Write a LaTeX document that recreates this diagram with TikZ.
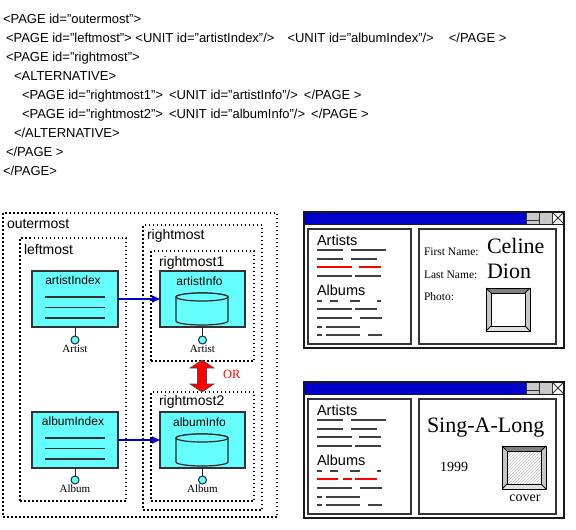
\documentclass[tikz,border=0pt]{standalone}
\usepackage{fontspec}
\setmainfont{Liberation Serif}
\setsansfont{Liberation Sans}
\usetikzlibrary{positioning,arrows.meta,patterns}
\definecolor{unitcyan}{HTML}{66FFFF}
\definecolor{linkblue}{HTML}{0000CC}
\definecolor{barblue}{HTML}{0000CC}
\definecolor{btngray}{HTML}{C8C8C8}
\definecolor{orred}{HTML}{FF0000}
\begin{document}
\begin{tikzpicture}[
    x=1pt, y=-1pt,
    every node/.style={inner sep=0pt, outer sep=0pt},
    xml/.style={anchor=base west, font=\sffamily\fontsize{13}{15}\selectfont},
    page/.style={draw, line width=1.2pt, dash pattern=on 1.5pt off 2.5pt, anchor=north west},
    pagetitle/.style={anchor=base west, font=\sffamily\fontsize{14}{16}\selectfont},
    unit/.style={draw=black!80, fill=unitcyan, line width=1.2pt, minimum width=86pt, minimum height=56pt},
    unittitle/.style={anchor=base, font=\sffamily\fontsize{12}{14}\selectfont},
    store/.style={draw=black!85, fill=unitcyan, line width=1.2pt},
    port/.style={circle, draw=black!85, fill=unitcyan, line width=1pt, minimum size=8pt},
    portlabel/.style={font=\fontsize{11}{13}\selectfont},
    stem/.style={draw=black!85, line width=1pt},
    link/.style={draw=linkblue, line width=1.2pt, -{Triangle[length=8pt,width=7pt]}},
    orarrow/.style={fill=orred, draw=black!70, line width=0.6pt, line join=miter},
    ortext/.style={anchor=base west, text=orred, font=\fontsize{12.5}{14}\selectfont},
    win/.style={draw=black!90, line width=1.5pt, anchor=north west, minimum width=260pt, minimum height=136pt},
    titlebar/.style={fill=barblue},
    button/.style={draw=black!80, fill=btngray, line width=0.8pt},
    panel/.style={draw=black!80, line width=1.2pt, anchor=north west, minimum height=115pt},
    paneltitle/.style={anchor=base west, font=\sffamily\fontsize{14.5}{16}\selectfont},
    panelline/.style={draw=black!75, line width=1.3pt},
    redline/.style={draw=orred, line width=1.3pt},
    field/.style={anchor=base west, font=\fontsize{11.5}{13}\selectfont},
    bigvalue/.style={anchor=base west, font=\fontsize{22}{24}\selectfont},
    smallvalue/.style={anchor=base west, font=\fontsize{14}{16}\selectfont},
    bevelframe/.pic={
      \fill[black!50] (0,0) -- (44,0) -- (39,5) -- (5,5) -- cycle;
      \fill[black!22] (0,0) -- (5,5) -- (5,38) -- (0,43) -- cycle;
      \fill[black!22] (44,0) -- (39,5) -- (39,38) -- (44,43) -- cycle;
      \fill[black!12] (0,43) -- (5,38) -- (39,38) -- (44,43) -- cycle;
      \draw[line width=1pt] (0,0) rectangle (44,43);
      \draw[line width=0.8pt] (5,5) rectangle (39,38);
      \draw[line width=0.8pt] (0,0) -- (5,5) (44,0) -- (39,5) (0,43) -- (5,38) (44,43) -- (39,38);
    },
  ]
  \useasboundingbox (0,0) rectangle (576,530);

  % page description
  \node[xml] (xml1) at (3,23.5) {<PAGE id="outermost">};
  \node[xml] (xml2) at (6,42.5) {<PAGE id="leftmost"> <UNIT id="artistIndex"/>\hspace{13pt}<UNIT id="albumIndex"/>\hspace{15pt}</PAGE >};
  \node[xml] (xml3) at (6,61.5) {<PAGE id="rightmost">};
  \node[xml] (xml4) at (14,80.5) {<ALTERNATIVE>};
  \node[xml] (xml5) at (22,99.5) {<PAGE id="rightmost1">\hspace{6pt}<UNIT id="artistInfo"/>\hspace{6pt}</PAGE >};
  \node[xml] (xml6) at (22,118.5) {<PAGE id="rightmost2">\hspace{6pt}<UNIT id="albumInfo"/>\hspace{6pt}</PAGE >};
  \node[xml] (xml7) at (14,137.5) {</ALTERNATIVE>};
  \node[xml] (xml8) at (6,156.5) {</PAGE >};
  \node[xml] (xml9) at (3,175.5) {</PAGE>};

  % nested pages
  \node[page, minimum width=274pt, minimum height=304pt] (outermost) at (3,213) {};
  \node[page, minimum width=106pt, minimum height=263pt] (leftmost) at (20,238) {};
  \node[page, minimum width=119pt, minimum height=285pt] (rightmost) at (143,225) {};
  \node[page, minimum width=103pt, minimum height=110pt] (rightmost1) at (151,251) {};
  \node[page, minimum width=103pt, minimum height=109pt] (rightmost2) at (151,392) {};
  \node[pagetitle] (outermostTitle) at ([shift={(4,15)}]outermost.north west) {outermost};
  \node[pagetitle] (leftmostTitle) at ([shift={(4,16)}]leftmost.north west) {leftmost};
  \node[pagetitle] (rightmostTitle) at ([shift={(4,14)}]rightmost.north west) {rightmost};
  \node[pagetitle] (rightmost1Title) at ([shift={(8,15)}]rightmost1.north west) {rightmost1};
  \node[pagetitle] (rightmost2Title) at ([shift={(8,13)}]rightmost2.north west) {rightmost2};

  % units
  \node[unit] (artistIndex) at (75,299) {};
  \node[unit] (albumIndex) at (75,440) {};
  \node[unit, minimum width=85pt] (artistInfo) at (202.5,299) {};
  \node[unit, minimum width=85pt] (albumInfo) at (202.5,440) {};
  \node[unittitle] (artistIndexTitle) at ([shift={(-2,13.5)}]artistIndex.north) {artistIndex};
  \node[unittitle] (albumIndexTitle) at ([shift={(-2,13.5)}]albumIndex.north) {albumIndex};
  \node[unittitle] (artistInfoTitle) at ([shift={(-3,14)}]artistInfo.north) {artistInfo};
  \node[unittitle] (albumInfoTitle) at ([shift={(-3,14)}]albumInfo.north) {albumInfo};
  \foreach \u in {artistIndex,albumIndex}
    \foreach \dy in {-2,8.5,19}
      \draw[line width=1.2pt, black!80] ([shift={(-30,\dy)}]\u.center) -- ++(60,0);
  % database drums
  \foreach \u in {artistInfo,albumInfo}{
    \filldraw[store] ([shift={(-26.5,-2)}]\u.center) -- ++(0,24)
      arc[start angle=180, end angle=360, x radius=26pt, y radius=4pt] -- ++(0,-24)
      arc[start angle=0, end angle=180, x radius=26pt, y radius=4pt] -- cycle;
    \draw[store] ([shift={(-0.5,-2)}]\u.center) ellipse[x radius=26pt, y radius=4pt];
  }

  % ports
  \node[port] (artistIndexPort) at (75,340) {};
  \node[port] (artistInfoPort) at (202.5,340) {};
  \node[port] (albumIndexPort) at (75,480) {};
  \node[port] (albumInfoPort) at (202.5,480) {};
  \draw[stem] (artistIndex) -- (artistIndexPort);
  \draw[stem] (artistInfo) -- (artistInfoPort);
  \draw[stem] (albumIndex) -- (albumIndexPort);
  \draw[stem] (albumInfo) -- (albumInfoPort);
  \node[portlabel, below=1pt of artistIndexPort] (artistIndexLabel) {Artist};
  \node[portlabel, below=1pt of artistInfoPort] (artistInfoLabel) {Artist};
  \node[portlabel, below=1pt of albumIndexPort] (albumIndexLabel) {Album};
  \node[portlabel, below=1pt of albumInfoPort] (albumInfoLabel) {Album};

  % links and alternative
  \draw[link] (artistIndex) -- (artistInfo);
  \draw[link] (albumIndex) -- (albumInfo);
  \coordinate (orArrow) at (202,376);
  \filldraw[orarrow] ([shift={(0,-16)}]orArrow) -- ([shift={(12,-8)}]orArrow)
    -- ([shift={(4.5,-8)}]orArrow) -- ([shift={(4.5,8)}]orArrow) -- ([shift={(12,8)}]orArrow)
    -- ([shift={(0,16)}]orArrow) -- ([shift={(-12,8)}]orArrow) -- ([shift={(-4.5,8)}]orArrow)
    -- ([shift={(-4.5,-8)}]orArrow) -- ([shift={(-12,-8)}]orArrow) -- cycle;
  \node[ortext] (orLabel) at (223,378) {OR};

  % screen windows
  \foreach \wy/\wn in {212/artistWin,382/albumWin}{
    \begin{scope}[shift={(0,\wy)}]
      \fill[titlebar] (304,0) rectangle (526,12);
      \draw[button] (526,0) rectangle (539,12);
      \draw[button] (539,0) rectangle (552,12);
      \draw[button, fill=white] (552,0) rectangle (564,12);
      \draw[black!80, line width=0.8pt] (526,8) -- (539,8);
      \draw[black!80, line width=0.8pt] (552,0) -- (564,12) (564,0) -- (552,12);
      \draw[black!90, line width=1pt] (304,12) -- (564,12);
      \node[win] (\wn) at (304,0) {};
      \node[panel, minimum width=103pt] (\wn-list) at (308,17) {};
      \node[panel, minimum width=137pt] (\wn-detail) at (419,17) {};
      \node[paneltitle] (\wn-artists) at (317,33) {Artists};
      \node[paneltitle] (\wn-albums) at (317,83) {Albums};
      \foreach \a/\b/\y in {317/343/38, 351/386/38, 317/343/47, 351/377/47,
          317/352/64, 355/381/64, 317/322/89, 330/338/89, 350/360/89, 377/381/89,
          317/352/106, 360/382/106, 317/322/115, 326/360/115,
          317/322/123, 326/360/123, 368/382/123}
        \draw[panelline] (\a,\y) -- (\b,\y);
    \end{scope}
  }
  % rows that differ
  \draw[redline] (317,267) -- (352,267) (359,267) -- (381,267);
  \draw[panelline] (317,309) -- (352,309) (355,309) -- (377,309);
  \draw[panelline] (317,437) -- (352,437) (359,437) -- (381,437);
  \draw[redline] (317,479) -- (338,479) (343,479) -- (352,479) (355,479) -- (377,479);

  % artist details
  \node[field] (firstName) at (424,255) {First Name:};
  \node[bigvalue] (celine) at (487,253) {Celine};
  \node[field] (lastName) at (424,278) {Last Name:};
  \node[bigvalue] (dion) at (487,278) {Dion};
  \node[field] (photo) at (424,300) {Photo:};
  \pic at (486,288) {bevelframe};

  % album details
  \node[bigvalue] (albumTitle) at (427,432) {Sing-A-Long};
  \node[smallvalue] (albumYear) at (440,471) {1999};
  \fill[pattern=north east lines, pattern color=black!25] (507,451) rectangle (541,484);
  \pic at (502,446) {bevelframe};
  \node[smallvalue, anchor=base] (coverLabel) at (525,501) {cover};
\end{tikzpicture}
\end{document}
